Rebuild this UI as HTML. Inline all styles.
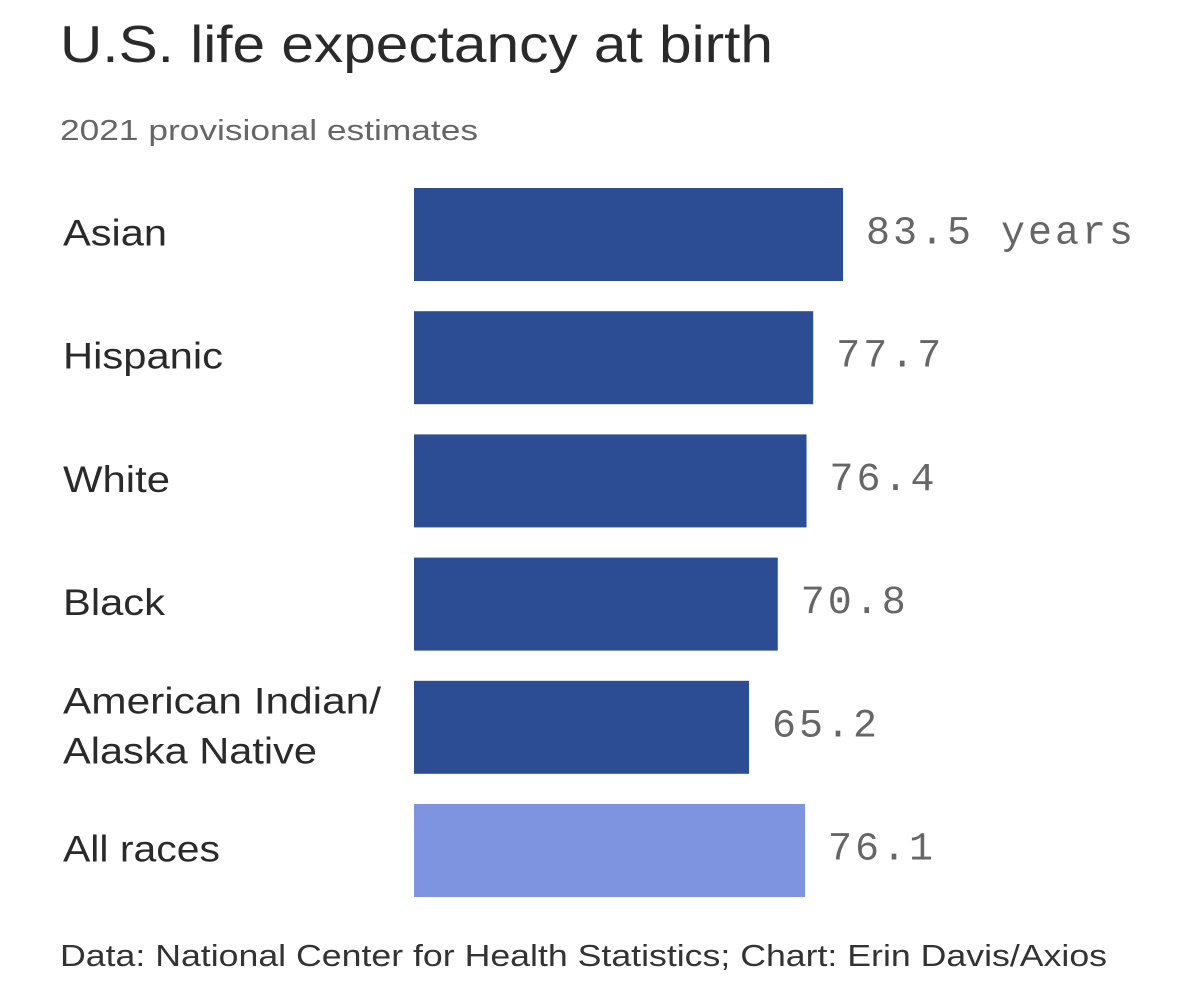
<!DOCTYPE html>
<html><head><meta charset="utf-8"><style>
body{margin:0;background:#fff;width:1200px;height:982px;overflow:hidden;font-family:"Liberation Sans",sans-serif;}
</style></head><body>
<svg width="1200" height="982">
<text x="60" y="62" font-size="52" fill="#2a2a2a" font-family="Liberation Sans" textLength="713" lengthAdjust="spacingAndGlyphs">U.S. life expectancy at birth</text>
<text x="60" y="140" font-size="29" fill="#666" font-family="Liberation Sans" textLength="418" lengthAdjust="spacingAndGlyphs">2021 provisional estimates</text>
<g id="bars"></g>
<text x="60" y="966" font-size="31" fill="#333" font-family="Liberation Sans" textLength="1047" lengthAdjust="spacingAndGlyphs">Data: National Center for Health Statistics; Chart: Erin Davis/Axios</text>
</svg>
<script>
const categories=[["Asian"],["Hispanic"],["White"],["Black"],["American Indian/","Alaska Native"],["All races"]];
const labelWidths=[[104],[160],[107],[102],[318,254],[157]];
const values=[83.5,77.7,76.4,70.8,65.2,76.1];
const valueLabels=["83.5 years","77.7","76.4","70.8","65.2","76.1"];
const highlight=[false,false,false,false,false,true];
const x0=414,pxPer=429/83.5,top0=188,pitch=123.2,bh=93;
const xs=v=>x0+v*pxPer;
const ys=i=>top0+i*pitch;
const g=document.getElementById('bars');
const ns="http://www.w3.org/2000/svg";
values.forEach((v,i)=>{
  const r=document.createElementNS(ns,'rect');
  r.setAttribute('x',x0);r.setAttribute('y',ys(i));
  r.setAttribute('width',xs(v)-x0);r.setAttribute('height',bh);
  r.setAttribute('fill',highlight[i]?'#7f94e0':'#2c4c94');
  
  
  g.appendChild(r);
  const cy=ys(i)+bh/2;
  const t=document.createElementNS(ns,'text');
  t.setAttribute('x',xs(v)+23);t.setAttribute('y',cy+9);
  t.setAttribute('font-size','40');t.setAttribute('fill','#666');
  t.setAttribute('font-family','Liberation Mono, monospace');
  t.setAttribute('letter-spacing','3');
  t.textContent=valueLabels[i];
  
  
  g.appendChild(t);
  const lines=categories[i];
  lines.forEach((ln,j)=>{
    const c=document.createElementNS(ns,'text');
    c.setAttribute('x',63);
    c.setAttribute('y',cy+11+(j-(lines.length-1)/2)*50);
    c.setAttribute('font-size','37');c.setAttribute('fill','#2a2a2a');
    c.setAttribute('font-family','Liberation Sans, sans-serif');
    c.setAttribute('textLength',labelWidths[i][j]);
    c.setAttribute('lengthAdjust','spacingAndGlyphs');
    c.textContent=ln;
    
    
    g.appendChild(c);
  });
});
</script>
</body></html>
